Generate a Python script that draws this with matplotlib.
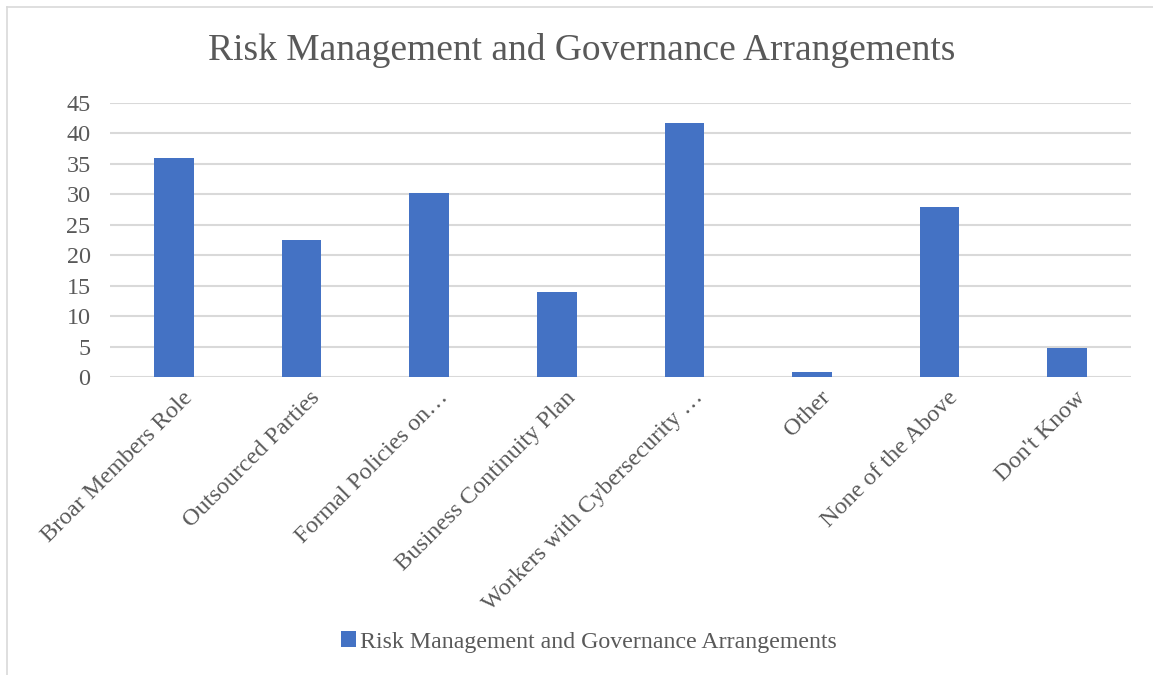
import matplotlib
matplotlib.use("Agg")
import matplotlib.pyplot as plt
from matplotlib.lines import Line2D
from matplotlib.transforms import ScaledTranslation

# --- データ ---
categories = [
    "Broar Members Role",
    "Outsourced Parties",
    "Formal Policies on…",
    "Business Continuity Plan",
    "Workers with Cybersecurity …",
    "Other",
    "None of the Above",
    "Don't Know",
]
values = [36, 22.6, 30.2, 14, 41.8, 0.8, 28, 4.8]
series_name = "Risk Management and Governance Arrangements"
y_ticks = [0, 5, 10, 15, 20, 25, 30, 35, 40, 45]

plt.rcParams['font.family'] = ['Liberation Serif', 'DejaVu Serif']
text_color = '#595959'
grid_color = '#d9d9d9'
bar_color = '#4472c4'

fig = plt.figure(figsize=(11.53, 6.75), dpi=100)
ax = fig.add_axes([0.0954, 0.441, 0.8856, 0.4064])

# グラフ枠（上と左だけ見える）
bx, by = 7 / 1153, 1 - 7 / 675
fig.add_artist(Line2D([bx, 1], [by, by], transform=fig.transFigure, color=grid_color, linewidth=1.2))
fig.add_artist(Line2D([bx, bx], [0, by], transform=fig.transFigure, color=grid_color, linewidth=1.2))

x = range(len(categories))
ax.bar(x, values, width=0.31, color=bar_color, label=series_name, zorder=3)

ax.set_xlim(-0.5, len(categories) - 0.5)
ax.set_ylim(0, 45)
ax.set_yticks(y_ticks)
ax.yaxis.grid(True, color=grid_color, linewidth=1.5, zorder=0)
ax.tick_params(axis='y', length=0, labelsize=17.4, labelcolor=text_color, pad=14)
ax.tick_params(axis='x', length=0, labelsize=17.4, labelcolor=text_color, pad=7)
for s in ax.spines.values():
    s.set_visible(False)

ax.set_xticks(list(x))
ax.set_xticklabels(categories, rotation=45, ha='right', va='top', rotation_mode='anchor')
shift = ScaledTranslation(8 / 100, 0, fig.dpi_scale_trans)
for lbl in ax.get_xticklabels():
    lbl.set_transform(lbl.get_transform() + shift)

fig.text(0.5 + 5 / 1153, 1 - 50 / 675, "Risk Management and Governance Arrangements",
         ha='center', va='center', fontsize=27, color=text_color)

fig.legend(loc='center', bbox_to_anchor=(0.511, 1 - 642 / 675), frameon=False,
           fontsize=17.2, labelcolor=text_color, handlelength=0.6, handleheight=0.6,
           handletextpad=0.2)

fig.savefig("out.png", dpi=100)
